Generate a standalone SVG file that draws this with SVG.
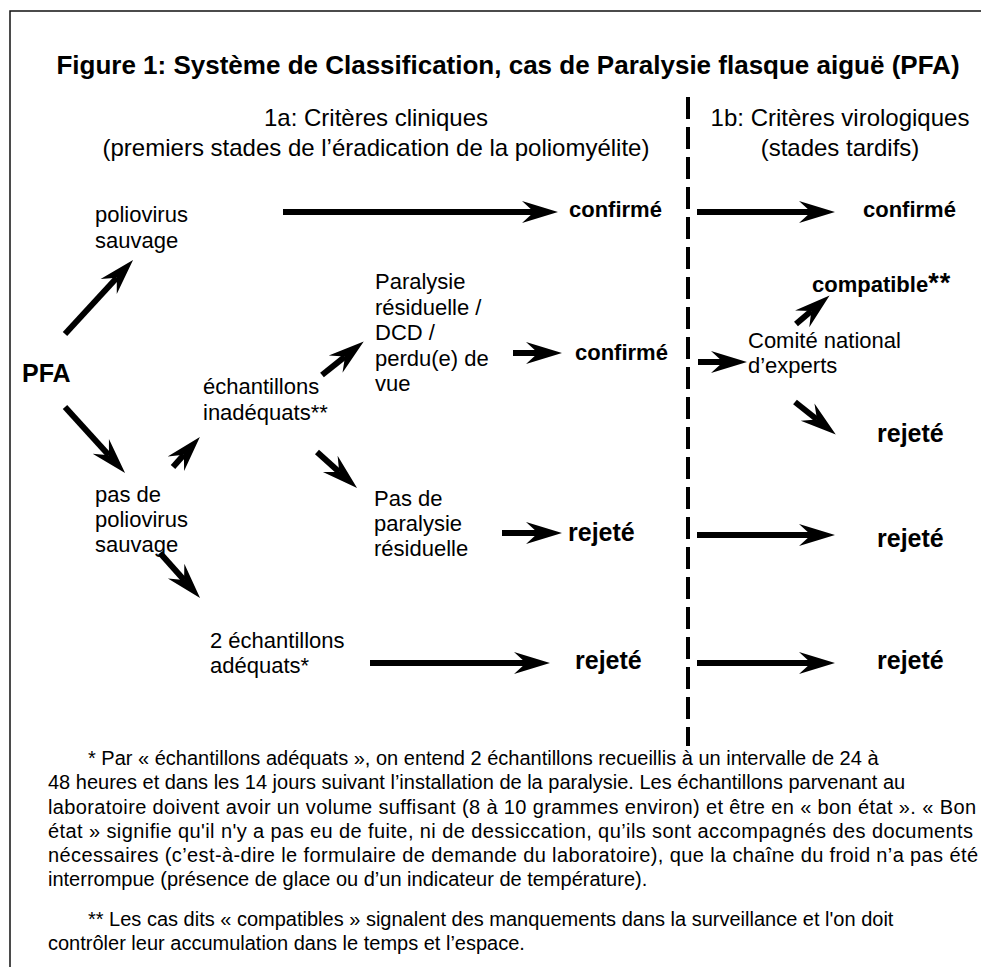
<svg xmlns="http://www.w3.org/2000/svg" width="981" height="967" viewBox="0 0 981 967">
<style>
text{font-family:"Liberation Sans",Arial,sans-serif;fill:#000}
.t{font-size:22px}
.b{font-size:22px;font-weight:bold}
.r{font-size:25px;font-weight:bold}
.sub{font-size:24px}
.title{font-size:26px;font-weight:bold}
.fn{font-size:20px}
.arr{stroke:#000;stroke-width:6;fill:none;marker-end:url(#ah)}
</style>
<defs>
<marker id="ah" markerUnits="userSpaceOnUse" viewBox="-12 -13 40 26" markerWidth="40" markerHeight="26" refX="0" refY="0" orient="auto" overflow="visible">
<path d="M24,0 L-12,-11 L0,0 L-12,11 Z" fill="#000"/>
</marker>
</defs>
<rect x="0" y="0" width="981" height="967" fill="#fff"/>
<path d="M10,967 V11 H981" fill="none" stroke="#111" stroke-width="1.5"/>
<g id="title"><text class="title" x="508" y="74" text-anchor="middle">Figure 1: Système de Classification, cas de Paralysie flasque aiguë (PFA)</text></g>
<g id="header-1a"><text class="sub" x="376" y="126" text-anchor="middle">1a: Critères cliniques</text><text class="sub" x="376" y="156" text-anchor="middle">(premiers stades de l’éradication de la poliomyélite)</text></g>
<g id="header-1b"><text class="sub" x="840" y="126" text-anchor="middle">1b: Critères virologiques</text><text class="sub" x="840" y="156" text-anchor="middle">(stades tardifs)</text></g>
<g id="divider"><line x1="688" y1="97" x2="688" y2="746" stroke="#000" stroke-width="4" stroke-dasharray="22 8"/></g>
<g id="n-pfa"><text class="r" x="22" y="382">PFA</text></g>
<g id="n-wild"><text class="t" x="95" y="222">poliovirus</text><text class="t" x="95" y="248">sauvage</text></g>
<g id="n-nowild"><text class="t" x="95" y="502">pas de</text><text class="t" x="95" y="527">poliovirus</text><text class="t" x="95" y="552">sauvage</text></g>
<g id="n-inad"><text class="t" x="203" y="394">échantillons</text><text class="t" x="203" y="420">inadéquats**</text></g>
<g id="n-resid"><text class="t" x="375" y="289">Paralysie</text><text class="t" x="375" y="315">résiduelle /</text><text class="t" x="375" y="340">DCD /</text><text class="t" x="375" y="366">perdu(e) de</text><text class="t" x="375" y="391">vue</text></g>
<g id="n-noresid"><text class="t" x="374" y="506">Pas de</text><text class="t" x="374" y="531">paralysie</text><text class="t" x="374" y="556">résiduelle</text></g>
<g id="n-adeq"><text class="t" x="210" y="648">2 échantillons</text><text class="t" x="210" y="673">adéquats*</text></g>
<g id="n-conf1a"><text class="b" x="569" y="217">confirmé</text></g>
<g id="n-conf2a"><text class="b" x="575" y="360">confirmé</text></g>
<g id="n-rej3a"><text class="r" x="568" y="541">rejeté</text></g>
<g id="n-rej4a"><text class="r" x="575" y="669">rejeté</text></g>
<g id="n-conf1b"><text class="b" x="863" y="217">confirmé</text></g>
<g id="n-compat"><text class="b" x="812" y="292">compatible<tspan style="font-size:27px" letter-spacing="1">**</tspan></text></g>
<g id="n-comite"><text class="t" x="748" y="348">Comité national</text><text class="t" x="748" y="373">d’experts</text></g>
<g id="n-rej2b"><text class="r" x="877" y="442">rejeté</text></g>
<g id="n-rej3b"><text class="r" x="877" y="547">rejeté</text></g>
<g id="n-rej4b"><text class="r" x="877" y="669">rejeté</text></g>
<g id="connectors">
<line class="arr" x1="283" y1="212" x2="534" y2="212"/>
<line class="arr" x1="697" y1="212" x2="811" y2="212"/>
<line class="arr" x1="65" y1="334" x2="116.8" y2="277.7"/>
<line class="arr" x1="65" y1="407" x2="108.9" y2="455.2"/>
<line class="arr" x1="173" y1="467" x2="183.9" y2="454.8"/>
<line class="arr" x1="322" y1="375" x2="345" y2="356.6"/>
<line class="arr" x1="317" y1="452" x2="339.2" y2="471.9"/>
<line class="arr" x1="160" y1="553" x2="184.1" y2="580.1"/>
<line class="arr" x1="513" y1="353" x2="538" y2="353"/>
<line class="arr" x1="698" y1="362" x2="723" y2="362"/>
<line class="arr" x1="796" y1="324" x2="811.3" y2="311"/>
<line class="arr" x1="795" y1="402" x2="817" y2="419.5"/>
<line class="arr" x1="502" y1="533" x2="538" y2="533"/>
<line class="arr" x1="697" y1="535" x2="811" y2="535"/>
<line class="arr" x1="370" y1="663" x2="526" y2="663"/>
<line class="arr" x1="697" y1="663" x2="811" y2="663"/>
</g>
<g id="footnotes">
<text class="fn" x="88" y="765">* Par « échantillons adéquats », on entend 2 échantillons recueillis à un intervalle de 24 à</text>
<text class="fn" x="48" y="789.3">48 heures et dans les 14 jours suivant l’installation de la paralysie. Les échantillons parvenant au</text>
<text class="fn" x="48" y="813.5" textLength="928" lengthAdjust="spacing">laboratoire doivent avoir un volume suffisant (8 à 10 grammes environ) et être en « bon état ». « Bon</text>
<text class="fn" x="48" y="837.8" textLength="925" lengthAdjust="spacing">état » signifie qu'il n'y a pas eu de fuite, ni de dessiccation, qu’ils sont accompagnés des documents</text>
<text class="fn" x="48" y="862" textLength="930" lengthAdjust="spacing">nécessaires (c’est-à-dire le formulaire de demande du laboratoire), que la chaîne du froid n’a pas été</text>
<text class="fn" x="48" y="886">interrompue (présence de glace ou d’un indicateur de température).</text>
<text class="fn" x="88" y="926">** Les cas dits « compatibles » signalent des manquements dans la surveillance et l'on doit</text>
<text class="fn" x="48" y="950">contrôler leur accumulation dans le temps et l’espace.</text>
</g>
</svg>
